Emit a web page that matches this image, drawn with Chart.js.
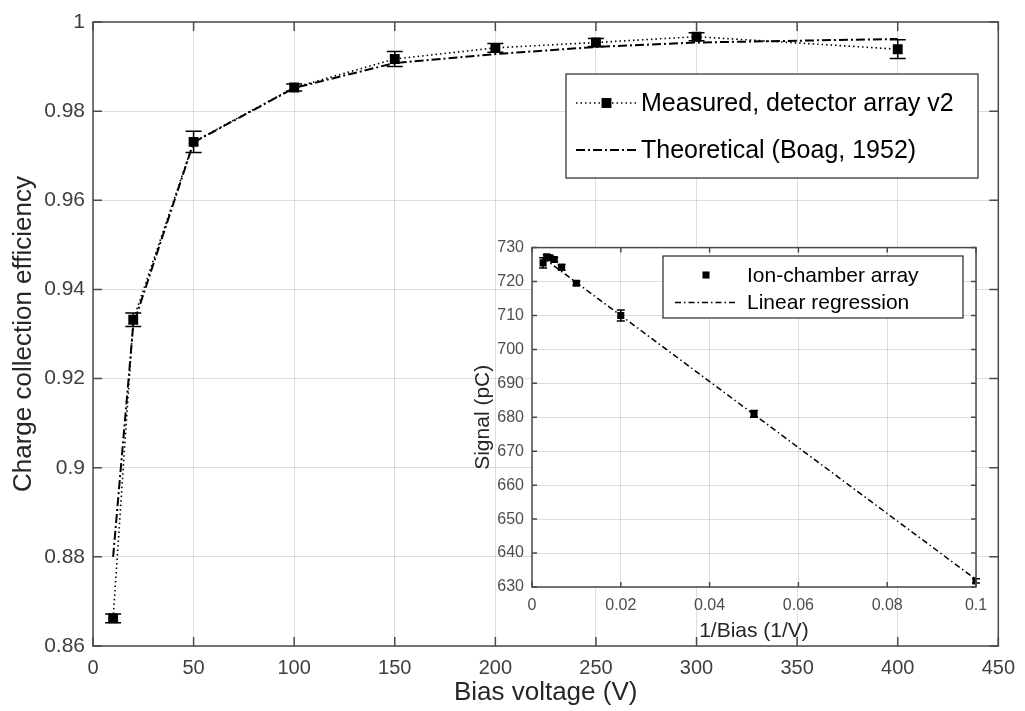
<!DOCTYPE html>
<html>
<head>
<meta charset="utf-8">
<script src="https://cdn.jsdelivr.net/npm/chart.js@4.4.1/dist/chart.umd.min.js"></script>
<style>
    body { margin: 0; background: #fff; }
    #wrap { position: relative; width: 1025px; height: 711px; }
    #mainChart { position: absolute; left: 0; top: 0; }
    #insetChart { position: absolute; left: 460px; top: 230px; }
</style>
</head>
<body>
<div id="wrap">
    <canvas id="mainChart" width="1025" height="711"></canvas>
    <canvas id="insetChart" width="540" height="420"></canvas>
</div>
<script>
//============================================= Data =============================================//
const biasVoltage = [10, 20, 50, 100, 150, 200, 250, 300, 400];
const measuredCCE = [0.8662, 0.9332, 0.9731, 0.9853, 0.9917, 0.9942, 0.9954, 0.9967, 0.9939];
const measuredErr = [0.0010, 0.0015, 0.0024, 0.0008, 0.0017, 0.0010, 0.0009, 0.0009, 0.0021];
const theoryCCE = [0.8800, 0.9320, 0.9730, 0.9852, 0.9908, 0.9928, 0.9944, 0.9954, 0.9962];

const inverseBias = [0.1, 0.05, 0.02, 0.01, 0.00667, 0.005, 0.004, 0.00333, 0.0025];
const signalPC = [631.8, 681.0, 710.0, 719.5, 724.2, 726.5, 727.0, 727.3, 725.5];
const signalErr = [0.6, 1.0, 1.6, 0.6, 0.8, 0.6, 0.6, 0.6, 1.5];
const regressionX = [0.0025, 0.1];
const regressionY = [727.0, 632.2];

const mainXTicks = [0, 450, 50];
const mainYTicks = [0.86, 1, 0.02];
const insetXTicks = [0, 0.1, 0.02];
const insetYTicks = [630, 730, 10];

const FONT = '"Liberation Sans", Arial, sans-serif';
const pairs = (xs, ys) => xs.map((x, i) => ({x: x, y: ys[i]}));
const clean = v => parseFloat(Number(v).toFixed(4));

//============================================= Plugins =============================================//
const whiteArea = {
    id: 'whiteArea',
    beforeDraw(chart) {
        const {ctx, chartArea: a} = chart;
        ctx.save();
        ctx.fillStyle = '#fff';
        ctx.fillRect(a.left, a.top, a.right - a.left, a.bottom - a.top);
        ctx.restore();
    }
};

const errorBars = {
    id: 'errorBars',
    afterDatasetsDraw(chart, args, opts) {
        const {ctx, scales} = chart;
        ctx.save();
        ctx.strokeStyle = '#000';
        ctx.lineWidth = 1.5;
        chart.data.datasets.forEach(ds => {
            if (!ds.errors) return;
            ds.data.forEach((p, i) => {
                const x = scales.x.getPixelForValue(p.x);
                const y1 = scales.y.getPixelForValue(p.y - ds.errors[i]);
                const y2 = scales.y.getPixelForValue(p.y + ds.errors[i]);
                ctx.beginPath();
                ctx.moveTo(x, y1); ctx.lineTo(x, y2);
                ctx.moveTo(x - opts.cap, y1); ctx.lineTo(x + opts.cap, y1);
                ctx.moveTo(x - opts.cap, y2); ctx.lineTo(x + opts.cap, y2);
                ctx.stroke();
            });
        });
        ctx.restore();
    }
};

const axesBox = {
    id: 'axesBox',
    afterDraw(chart, args, opts) {
        const {ctx, chartArea: a, scales} = chart;
        const t = opts.tick;
        ctx.save();
        ctx.strokeStyle = '#4a4a4a';
        ctx.lineWidth = 1.5;
        ctx.beginPath();
        scales.x.ticks.forEach(tk => {
            const x = scales.x.getPixelForValue(tk.value);
            ctx.moveTo(x, a.bottom); ctx.lineTo(x, a.bottom - t);
            ctx.moveTo(x, a.top); ctx.lineTo(x, a.top + t);
        });
        scales.y.ticks.forEach(tk => {
            const y = scales.y.getPixelForValue(tk.value);
            ctx.moveTo(a.left, y); ctx.lineTo(a.left + t, y);
            ctx.moveTo(a.right, y); ctx.lineTo(a.right - t, y);
        });
        ctx.stroke();
        ctx.strokeRect(a.left, a.top, a.right - a.left, a.bottom - a.top);
        ctx.restore();
    }
};

// legend drawn by hand so the line samples keep their dash patterns
const boxLegend = {
    id: 'boxLegend',
    afterDraw(chart, args, opts) {
        const {ctx} = chart;
        ctx.save();
        ctx.fillStyle = '#fff';
        ctx.fillRect(opts.x, opts.y, opts.w, opts.h);
        ctx.strokeStyle = '#262626';
        ctx.lineWidth = 1.2;
        ctx.strokeRect(opts.x, opts.y, opts.w, opts.h);
        ctx.font = opts.size + 'px ' + FONT;
        ctx.textBaseline = 'middle';
        chart.data.datasets.forEach((ds, i) => {
            const y = opts.rows[i];
            const x1 = opts.x + opts.lineFrom, x2 = opts.x + opts.lineTo;
            if (ds.showLine !== false) {
                ctx.strokeStyle = ds.borderColor;
                ctx.lineWidth = ds.borderWidth;
                ctx.setLineDash(ds.borderDash || []);
                ctx.beginPath();
                ctx.moveTo(x1, y); ctx.lineTo(x2, y);
                ctx.stroke();
                ctx.setLineDash([]);
            }
            if (ds.pointRadius > 0) {
                const s = ds.pointRadius * Math.SQRT1_2;
                ctx.fillStyle = '#000';
                ctx.fillRect((x1 + x2) / 2 - s, y - s, 2 * s, 2 * s);
            }
            ctx.fillStyle = '#000';
            ctx.fillText(ds.label, opts.x + opts.textAt, y + 1);
        });
        ctx.restore();
    }
};

//============================================= Main chart =============================================//
const mainConfig = {
    type: 'line',
    data: {
        datasets: [
            {
                label: 'Measured, detector array v2',
                data: pairs(biasVoltage, measuredCCE),
                errors: measuredErr,
                borderColor: '#000',
                borderWidth: 1.6,
                borderDash: [1.5, 3],
                pointStyle: 'rect',
                pointRadius: 7,
                pointBackgroundColor: '#000',
                pointBorderWidth: 0
            },
            {
                label: 'Theoretical (Boag, 1952)',
                data: pairs(biasVoltage, theoryCCE),
                borderColor: '#000',
                borderWidth: 2,
                borderDash: [9, 3, 2, 3],
                pointRadius: 0
            }
        ]
    },
    options: {
        responsive: false,
        animation: false,
        layout: {padding: {top: 22, right: 22}},
        scales: {
            x: {
                type: 'linear',
                min: mainXTicks[0], max: mainXTicks[1],
                afterFit(scale) { scale.height = 65; },
                grid: {color: 'rgba(0,0,0,0.13)', drawTicks: false},
                border: {display: false},
                ticks: {stepSize: mainXTicks[2], padding: 10, color: '#404040', font: {family: FONT, size: 20}},
                title: {display: true, text: 'Bias voltage (V)', color: '#262626', padding: {top: 0, bottom: 3},
                    font: {family: FONT, size: 26, lineHeight: 1.2}}
            },
            y: {
                type: 'linear',
                min: mainYTicks[0], max: mainYTicks[1],
                afterFit(scale) { scale.width = 93; },
                grid: {color: 'rgba(0,0,0,0.13)', drawTicks: false},
                border: {display: false},
                ticks: {stepSize: mainYTicks[2], padding: 8, color: '#404040', font: {family: FONT, size: 21},
                    callback: v => clean(v)},
                title: {display: true, text: 'Charge collection efficiency', color: '#262626', padding: {top: 8, bottom: 0},
                    font: {family: FONT, size: 26, lineHeight: 1.2}}
            }
        },
        plugins: {
            legend: {display: false},
            tooltip: {enabled: false},
            errorBars: {cap: 8},
            axesBox: {tick: 9},
            boxLegend: {x: 566, y: 74, w: 412, h: 104, rows: [103, 150], lineFrom: 10, lineTo: 71, textAt: 75, size: 25}
        }
    },
    plugins: [whiteArea, errorBars, axesBox, boxLegend]
};

new Chart(document.getElementById('mainChart'), mainConfig);

//============================================= Inset chart =============================================//
const insetConfig = {
    type: 'line',
    data: {
        datasets: [
            {
                label: 'Ion-chamber array',
                data: pairs(inverseBias, signalPC),
                errors: signalErr,
                showLine: false,
                pointStyle: 'rect',
                pointRadius: 5,
                pointBackgroundColor: '#000',
                pointBorderWidth: 0
            },
            {
                label: 'Linear regression',
                data: pairs(regressionX, regressionY),
                borderColor: '#000',
                borderWidth: 1.5,
                borderDash: [6, 3, 1.5, 3],
                pointRadius: 0
            }
        ]
    },
    options: {
        responsive: false,
        animation: false,
        layout: {padding: {top: 16, right: 24}},
        scales: {
            x: {
                type: 'linear',
                min: insetXTicks[0], max: insetXTicks[1],
                afterFit(scale) { scale.height = 63; },
                grid: {color: 'rgba(0,0,0,0.13)', drawTicks: false},
                border: {display: false},
                ticks: {stepSize: insetXTicks[2], padding: 9, color: '#4d4d4d', font: {family: FONT, size: 16},
                    callback: v => clean(v)},
                title: {display: true, text: '1/Bias (1/V)', color: '#262626', padding: {top: 0, bottom: 6},
                    font: {family: FONT, size: 21, lineHeight: 1.2}}
            },
            y: {
                type: 'linear',
                min: insetYTicks[0], max: insetYTicks[1],
                afterFit(scale) { scale.width = 72; },
                grid: {color: 'rgba(0,0,0,0.13)', drawTicks: false},
                border: {display: false},
                ticks: {stepSize: insetYTicks[2], padding: 8, color: '#4d4d4d', font: {family: FONT, size: 16}},
                title: {display: true, text: 'Signal (pC)', color: '#262626', padding: {top: 11, bottom: 0},
                    font: {family: FONT, size: 21, lineHeight: 1.2}}
            }
        },
        plugins: {
            legend: {display: false},
            tooltip: {enabled: false},
            errorBars: {cap: 4},
            axesBox: {tick: 5},
            boxLegend: {x: 203, y: 26, w: 300, h: 62, rows: [45, 72.5], lineFrom: 12, lineTo: 74, textAt: 84, size: 21}
        }
    },
    plugins: [whiteArea, errorBars, axesBox, boxLegend]
};

new Chart(document.getElementById('insetChart'), insetConfig);
</script>
</body>
</html>
